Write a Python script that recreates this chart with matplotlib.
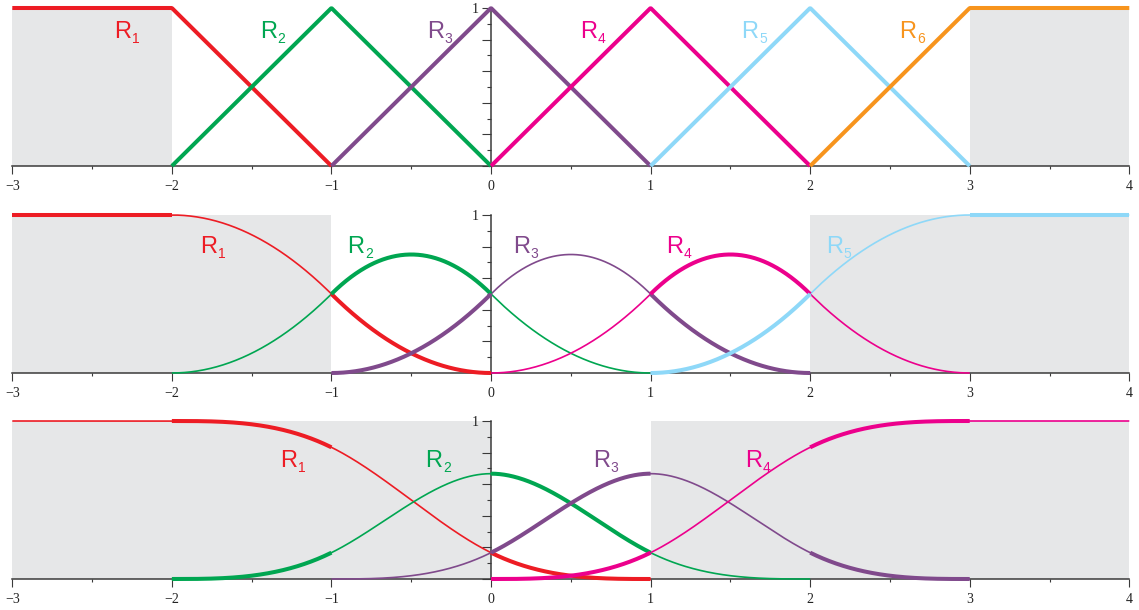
import numpy as np
import matplotlib
matplotlib.use("Agg")
import matplotlib.pyplot as plt
from matplotlib.ticker import MultipleLocator, FuncFormatter

# ---- data -------------------------------------------------------------
X_RANGE = (-3, 4)
degrees = [1, 2, 3]                 # spline degree of each row
first_shift = [-2, -2, -2]          # knot shift of basis function R2
n_funcs = [6, 5, 4]                 # number of basis functions per row
shaded = [[(-3, -2), (3, 4)],
          [(-3, -1), (2, 4)],
          [(-3, 0), (1, 4)]]
bold_spans = [[(-3, 4)],
              [(-3, -2), (-1, 0), (1, 2), (3, 4)],
              [(-2, -1), (0, 1), (2, 3)]]
label_x = [[-2.36, -1.45, -0.40, 0.56, 1.57, 2.56],
           [-1.82, -0.90, 0.14, 1.10, 2.10],
           [-1.32, -0.41, 0.64, 1.59]]
label_y = [0.81, 0.76, 0.71]
palette = ['#ed1c24', '#00a651', '#804a8c', '#ec008c', '#8ed8f8', '#f7941d']
x_ticks = [-3, -2, -1, 0, 1, 2, 3, 4]

AXIS_COL = '#3a3a3a'
SHADE_COL = '#e6e7e8'
LABEL_FONT = 'Liberation Sans'


def cardinal(x, p):
    """Uniform cardinal B-spline of degree p with support [0, p+1]."""
    if p == 0:
        return ((x >= 0) & (x < 1)).astype(float)
    return (x * cardinal(x, p - 1) + (p + 1 - x) * cardinal(x - 1, p - 1)) / p


def basis(x, p, k0, n, j):
    """j-th basis function of a row; the outer two collect the tails."""
    last = k0 + n - 3
    if j == 0:
        return sum(cardinal(x - k, p) for k in range(-20, k0))
    if j == n - 1:
        return sum(cardinal(x - k, p) for k in range(last + 1, 20))
    return cardinal(x - (k0 + j - 1), p)


def support(p, k0, n, j):
    last = k0 + n - 3
    if j == 0:
        return (X_RANGE[0], k0 - 1 + p + 1)
    if j == n - 1:
        return (last + 1, X_RANGE[1])
    k = k0 + j - 1
    return (k, k + p + 1)


fig = plt.figure(figsize=(11.39, 6.10), dpi=100)
W, H = 1139, 610
left, width = 12.3 / W, 1117 / W
row_bottoms = [444, 237, 31]
axh = 158 / H

for r in range(3):
    ax = fig.add_axes([left, row_bottoms[r] / H, width, axh])
    ax.set_xlim(*X_RANGE)
    ax.set_ylim(0, 1)
    ax.patch.set_visible(False)

    for a, b in shaded[r]:
        ax.axvspan(a, b, ymin=0, ymax=1, color=SHADE_COL, lw=0, zorder=0)

    p, k0, n = degrees[r], first_shift[r], n_funcs[r]
    for j in range(n):
        col = palette[j]
        s0, s1 = support(p, k0, n, j)
        xs = np.linspace(s0, s1, 600)
        ys = basis(xs, p, k0, n, j)
        if r > 0:
            ax.plot(xs, ys, color=col, lw=1.2, solid_capstyle='butt',
                    clip_on=False, zorder=3)
        for a, b in bold_spans[r]:
            lo, hi = max(a, s0), min(b, s1)
            if hi - lo <= 1e-9:
                continue
            xb = np.linspace(lo, hi, 400)
            yb = basis(xb, p, k0, n, j)
            if yb.max() < 1e-9:
                continue
            ax.plot(xb, yb, color=col, lw=2.9, solid_capstyle='butt',
                    clip_on=False, zorder=4)
        # "R" with a small subscript index
        ax.text(label_x[r][j], label_y[r], 'R', color=col, fontsize=17,
                family=LABEL_FONT, ha='left', va='baseline', zorder=5)
        ax.annotate(str(j + 1), xy=(label_x[r][j], label_y[r]),
                    xytext=(12.6, -3.8), textcoords='offset points',
                    color=col, fontsize=10, family=LABEL_FONT,
                    ha='left', va='baseline', zorder=5)

    for side in ('top', 'right'):
        ax.spines[side].set_visible(False)
    ax.spines['bottom'].set_position(('data', 0))
    ax.spines['left'].set_position(('data', 0))
    ax.spines['bottom'].set_bounds(*X_RANGE)
    ax.spines['left'].set_bounds(0, 1)
    for side in ('bottom', 'left'):
        ax.spines[side].set_color(AXIS_COL)
        ax.spines[side].set_linewidth(1.1)
        ax.spines[side].set_zorder(2.5)

    ax.set_xticks(x_ticks)
    ax.set_xticklabels([('\u2212%d' % -v) if v < 0 else str(v) for v in x_ticks])
    ax.xaxis.set_minor_locator(MultipleLocator(0.5))
    ax.yaxis.set_major_locator(MultipleLocator(0.2))
    ax.yaxis.set_minor_locator(MultipleLocator(0.1))
    ax.yaxis.set_major_formatter(FuncFormatter(lambda v, pos: '1' if abs(v - 1) < 1e-6 else ''))
    ax.tick_params(axis='x', which='major', direction='out', length=6,
                   width=0.8, color=AXIS_COL, pad=4, labelsize=10)
    ax.tick_params(axis='x', which='minor', direction='out', length=2.5,
                   width=0.8, color=AXIS_COL)
    ax.tick_params(axis='y', which='major', direction='out', length=6.5,
                   width=0.8, color=AXIS_COL, pad=2, labelsize=10)
    ax.tick_params(axis='y', which='minor', direction='out', length=3,
                   width=0.8, color=AXIS_COL)
    for lab in ax.get_xticklabels() + ax.get_yticklabels():
        lab.set_family('Liberation Serif')
        lab.set_color('#222222')

fig.savefig('out.png', dpi=100)
